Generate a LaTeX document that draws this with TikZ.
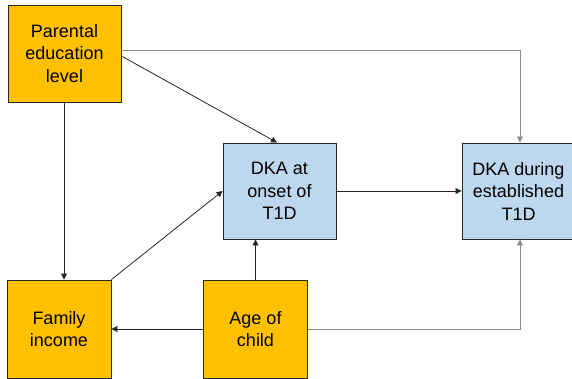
\documentclass[tikz,border=0pt]{standalone}
\usepackage{fontspec}
\setmainfont{Liberation Sans}
\usetikzlibrary{arrows.meta}
\definecolor{boxorange}{HTML}{FFC000}
\definecolor{boxblue}{HTML}{BDD7EE}
\definecolor{linegray}{HTML}{8C8C8C}
\begin{document}
\begin{tikzpicture}[x=1pt,y=-1pt,
  factor/.style={draw=black!85,line width=0.9pt,fill=boxorange,align=center,
    font=\fontsize{18}{22.5}\selectfont,inner sep=0pt},
  outcome/.style={draw=black!85,line width=0.9pt,fill=boxblue,align=center,
    font=\fontsize{18}{22.5}\selectfont,inner sep=0pt},
  link/.style={draw=black!85,line width=0.8pt,-{Triangle[length=6pt,width=6pt]}},
  farlink/.style={draw=linegray,line width=0.8pt,-{Triangle[length=6pt,width=6pt]}}]
\useasboundingbox (0,0) rectangle (572,378);
\clip (0,0) rectangle (572,378);
% boxes
\node[factor,minimum width=113pt,minimum height=97pt] (par) at (64.5,53.5) {Parental\\education\\level};
\node[outcome,minimum width=113pt,minimum height=96pt] (onset) at (279.5,191) {DKA at\\onset of\\T1D};
\node[outcome,minimum width=113pt,minimum height=96pt] (est) at (518.5,191) {DKA during\\established\\T1D};
\node[factor,minimum width=104pt,minimum height=98pt] (inc) at (59,329) {Family\\income};
\node[factor,minimum width=104pt,minimum height=98pt] (age) at (255.5,329) {Age of\\child};
% connectors
\coordinate (c1) at (520,50);
\coordinate (c2) at (520,329);
\draw[link] (par.east |- 0,56) -- (onset.north -| 277,0);
\draw[farlink] (par.east |- 0,50) -- (c1) -- (c1 |- est.north);
\draw[link] (par.south -| 64,0) -- (inc.north -| 64,0);
\draw[link] (inc.north east) -- (onset.west);
\draw[link] (age.north) -- (age.north |- onset.south);
\draw[link] (age.west) -- (inc.east);
\draw[farlink] (age.east) -- (c2) -- (c2 |- est.south);
\draw[link] (onset.east) -- (est.west);
\end{tikzpicture}
\end{document}
